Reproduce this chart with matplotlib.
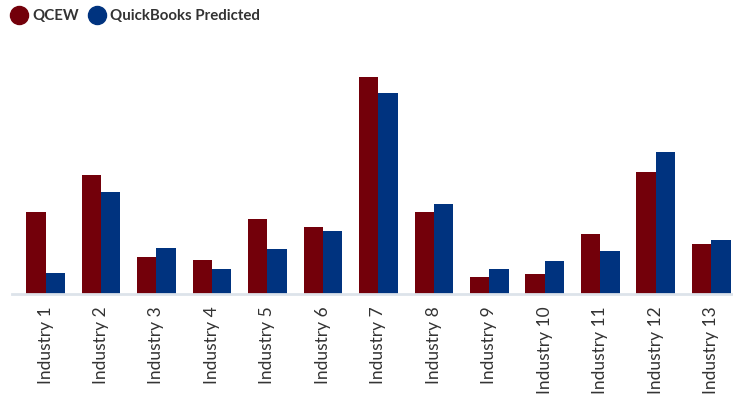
import numpy as np
import matplotlib
matplotlib.use("Agg")
import matplotlib.pyplot as plt
from matplotlib.lines import Line2D

plt.rcParams['font.family'] = ['Lato', 'DejaVu Sans']

industries = ["Industry %d" % i for i in range(1, 14)]
qcew = [82, 119, 37, 34, 75, 67, 217, 82, 17, 20, 60, 122, 50]
quickbooks = [21, 102, 46, 25, 45, 63, 201, 90, 25, 33, 43, 142, 54]
series_names = ["QCEW", "QuickBooks Predicted"]

red = "#73000a"
blue = "#00337f"

W, H = 733, 405
fig = plt.figure(figsize=(W / 100, H / 100), dpi=100)
# axes: left 12px, right 733px, bottom at 294px from top, top at 40px
ax = fig.add_axes([12 / W, 111 / H, 721 / W, 254 / H])

x = np.arange(len(industries))
w = 0.35
ax.bar(x - w / 2, qcew, width=w, color=red)
ax.bar(x + w / 2, quickbooks, width=w, color=blue)

ax.set_xlim(-0.604, 12.39)
ax.set_ylim(0, 254)
ax.set_xticks(x)
ax.set_xticklabels(industries, rotation=90, fontsize=12.5, color="#333333")
ax.tick_params(axis="x", length=0, pad=9)
ax.set_yticks([])
for s in ["top", "right", "left"]:
    ax.spines[s].set_visible(False)
ax.spines["bottom"].set_color("#dde3ea")
ax.spines["bottom"].set_linewidth(2)

# legend drawn by hand so the spacing follows the reference
for cx, tx, col, name in [(19, 32, red, series_names[0]),
                          (97, 110, blue, series_names[1])]:
    fig.add_artist(Line2D([cx / W], [1 - 15 / H], marker="o", markersize=13,
                          color=col, linestyle="", transform=fig.transFigure))
    fig.text(tx / W, 1 - 15 / H, name, ha="left", va="center_baseline",
             fontsize=10.8, weight="bold", color="#333333")

fig.savefig("out.png", dpi=100)
